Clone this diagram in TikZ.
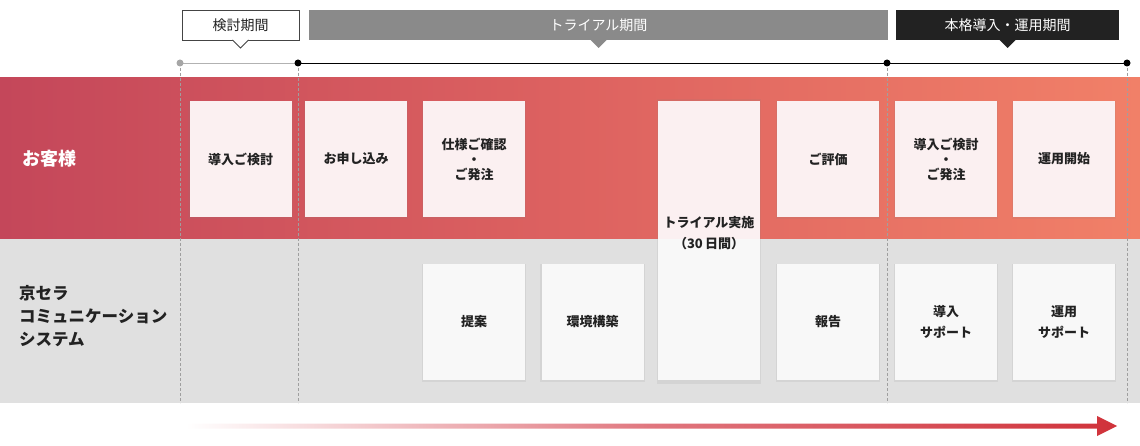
\documentclass[tikz,border=0pt]{standalone}
\usepackage{fontspec}
\setmainfont{Noto Sans CJK JP}
\usetikzlibrary{positioning, shadows, calc}

\definecolor{laneRedL}{RGB}{196,71,90}
\definecolor{laneRedM}{RGB}{221,98,96}
\definecolor{laneRedR}{RGB}{241,128,104}
\definecolor{laneGray}{RGB}{224,224,224}
\definecolor{boxPink}{RGB}{251,240,241}
\definecolor{boxGray}{RGB}{248,248,248}
\definecolor{textDark}{RGB}{34,34,34}
\definecolor{headLine}{RGB}{68,68,68}
\definecolor{headTrial}{RGB}{138,138,138}
\definecolor{headMain}{RGB}{34,34,34}
\definecolor{arrowRed}{RGB}{208,50,58}
\definecolor{arrowMid}{RGB}{224,118,126}

\begin{document}
\begin{tikzpicture}[x=1pt, y=-1pt,
            % Text inside the step boxes
            steptext/.style={align=center, text=textDark, inner sep=0, font=\fontsize{13}{21}\selectfont\bfseries},
            % Style for the step boxes in both lanes
            stepbox/.style={steptext, minimum width=102pt, minimum height=116pt, outer sep=0,
                drop shadow={shadow xshift=0pt, shadow yshift=-1pt, shadow scale=1.02, opacity=0.12}},
            custbox/.style={stepbox, fill=boxPink},
            sysbox/.style={stepbox, fill=boxGray},
            % Style for the period labels on top
            period/.style={minimum height=30pt, inner sep=0, outer sep=0, font=\fontsize{14}{16}\selectfont},
            % Style for the lane titles on the left
            lanelabel/.style={anchor=west, inner sep=0, align=left, font=\bfseries},
            % Style for the dashed guide lines
            guide/.style={gray!75, line width=0.8pt, dash pattern=on 3pt off 2pt}
        ]
        \useasboundingbox (0,0) rectangle (1140,446);

        % --- Lanes ---
        \shade[left color=laneRedL, right color=laneRedR, middle color=laneRedM] (0,78) rectangle (1140,239);
        \fill[laneGray] (0,239) rectangle (1140,403);
        \node[lanelabel, text=white, font=\fontsize{18}{23}\selectfont\bfseries] (cust) at (22,159) {お客様};
        \node[lanelabel, text=textDark, font=\fontsize{16.5}{23}\selectfont\bfseries] (sys) at (19,316) {京セラ\\コミュニケーション\\システム};

        % --- Timeline ---
        \coordinate (t0) at (180,63);
        \coordinate (t1) at (298,63);
        \coordinate (t2) at (887,63);
        \coordinate (t3) at (1127,63);
        \draw[gray!60, line width=0.8pt] (t0) -- (t1);
        \draw[black, line width=0.8pt] (t1) -- (t3);
        % dashed guides down to the bottom of the lanes
        \foreach \t in {t0,t1,t2,t3} {
            \draw[guide] (\t) -- ++(0,340);
        }
        \fill[gray!70] (t0) circle (3.5);
        \foreach \t in {t1,t2,t3} {
            \fill[black] (\t) circle (3.5);
        }

        % --- Periods ---
        \node[period, draw=headLine, line width=0.9pt, fill=white, text=textDark, minimum width=117pt] (kentou) at (240.5,25) {検討期間};
        \fill[white] ($(kentou.south)+(-7,-0.8)$) rectangle ($(kentou.south)+(7,0.6)$);
        \draw[headLine, line width=0.9pt, fill=white] ($(kentou.south)+(-8,0)$) -- ++(8,8) -- ++(8,-8);
        \node[period, fill=headTrial, text=white, minimum width=579pt] (trialhead) at (598.5,25) {トライアル期間};
        \fill[headTrial] ($(trialhead.south)+(-8,0)$) -- ++(8,8) -- ++(8,-8) -- cycle;
        \node[period, fill=headMain, text=white, minimum width=223pt] (mainhead) at (1007.5,25) {本格導入・運用期間};
        \fill[headMain] ($(mainhead.south)+(-8,0)$) -- ++(8,8) -- ++(8,-8) -- cycle;

        % --- Customer lane ---
        \foreach \nm/\x/\txt in {custA/240.5/{導入ご検討}, custB/356/{お申し込み}, custC/474/{仕様ご確認\\[-6pt]・\\[-6pt]ご発注},
                                 custE/828/{ご評価}, custF/946/{導入ご検討\\[-6pt]・\\[-6pt]ご発注}, custG/1064/{運用開始}} {
            \node[custbox] (\nm) at (\x,159) {\txt};
        }

        % --- System lane ---
        \foreach \nm/\x/\txt in {sysC/474/{提案}, sysD/592.5/{環境構築}, sysE/828/{報告},
                                 sysF/946/{導入\\サポート}, sysG/1064/{運用\\サポート}} {
            \node[sysbox] (\nm) at (\x,322) {\txt};
        }

        % trial box over both lanes: pink above the lane split, grey below
        \node[stepbox, fill=boxPink, minimum height=279pt] (trial) at (709,240.5) {};
        \coordinate (split) at (0,239);
        \fill[boxGray] (trial.west |- split) rectangle (trial.south east);
        \node[steptext] (trialtxt) at ($(trial.center)+(0,-7)$) {トライアル実施\\（30\,日間）};

        % --- Time arrow ---
        \coordinate (arrowstart) at (186,426);
        \coordinate (arrowtip) at (1117,426);
        \shade[left color=white, right color=arrowRed, middle color=arrowMid]
            ($(arrowstart)+(0,-2.5)$) -- ($(arrowtip)+(-20,-2.5)$) -- ($(arrowtip)+(-20,-10)$) -- (arrowtip)
            -- ($(arrowtip)+(-20,10)$) -- ($(arrowtip)+(-20,2.5)$) -- ($(arrowstart)+(0,2.5)$) -- cycle;

        \end{tikzpicture}
\end{document}
